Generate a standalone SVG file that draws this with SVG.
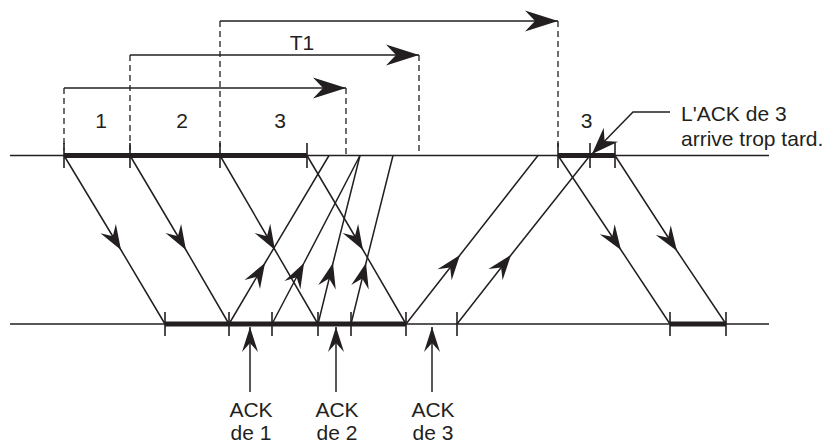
<svg xmlns="http://www.w3.org/2000/svg" width="826" height="445" viewBox="0 0 826 445">
<style>
.ln{stroke:#231f20;stroke-width:1.5;fill:none}
.thick{stroke:#231f20;stroke-width:5;fill:none}
.dash{stroke:#231f20;stroke-width:1.3;fill:none;stroke-dasharray:6 4}
.tick{stroke:#231f20;stroke-width:1.6}
.t{font-family:"Liberation Sans",Arial,sans-serif;font-size:21px;fill:#231f20}
.mid{marker-mid:url(#sm)}
</style>
<defs>
<marker id="big" markerUnits="userSpaceOnUse" viewBox="-34 -11 36 22" refX="0" refY="0" markerWidth="36" markerHeight="22" orient="auto" overflow="visible">
<path d="M0,0 L-33,-10.5 L-23,0 L-33,10.5 Z" fill="#231f20"/>
</marker>
<marker id="sm" markerUnits="userSpaceOnUse" viewBox="-26 -10 28 20" refX="0" refY="0" markerWidth="28" markerHeight="20" orient="auto" overflow="visible">
<path d="M0,0 L-25,-9 L-16,0 L-25,9 Z" fill="#231f20"/>
</marker>
<marker id="ack" markerUnits="userSpaceOnUse" viewBox="-26 -9 28 18" refX="0" refY="0" markerWidth="28" markerHeight="18" orient="auto" overflow="visible">
<path d="M0,0 L-25,-8 L-16,0 L-25,8 Z" fill="#231f20"/>
</marker>
<marker id="lead" markerUnits="userSpaceOnUse" viewBox="-28 -11 30 22" refX="0" refY="0" markerWidth="30" markerHeight="22" orient="auto" overflow="visible">
<path d="M0,0 L-27,-10 L-18,0 L-27,10 Z" fill="#231f20"/>
</marker>
</defs>

<g id="timelines">
<line class="ln" x1="10" y1="155.5" x2="769" y2="155.5"/>
<line class="ln" x1="10" y1="324" x2="769" y2="324"/>
<line class="thick" x1="64" y1="155.5" x2="307" y2="155.5"/>
<line class="thick" x1="558" y1="155.5" x2="615" y2="155.5"/>
<line class="thick" x1="165" y1="324" x2="406" y2="324"/>
<line class="thick" x1="670" y1="324" x2="726" y2="324"/>
</g>

<g id="ticks">
<line class="tick" x1="64" y1="143" x2="64" y2="168"/>
<line class="tick" x1="130" y1="143" x2="130" y2="168"/>
<line class="tick" x1="220" y1="143" x2="220" y2="168"/>
<line class="tick" x1="307" y1="143" x2="307" y2="168"/>
<line class="tick" x1="558" y1="143" x2="558" y2="168"/>
<line class="tick" x1="590" y1="143" x2="590" y2="168"/>
<line class="tick" x1="615" y1="143" x2="615" y2="168"/>
<line class="tick" x1="165" y1="312" x2="165" y2="336"/>
<line class="tick" x1="229" y1="312" x2="229" y2="336"/>
<line class="tick" x1="272" y1="312" x2="272" y2="336"/>
<line class="tick" x1="318" y1="312" x2="318" y2="336"/>
<line class="tick" x1="351" y1="312" x2="351" y2="336"/>
<line class="tick" x1="406" y1="312" x2="406" y2="336"/>
<line class="tick" x1="457" y1="312" x2="457" y2="336"/>
<line class="tick" x1="670" y1="312" x2="670" y2="336"/>
<line class="tick" x1="726" y1="312" x2="726" y2="336"/>
</g>

<g id="timers">
<line class="dash" x1="64" y1="88" x2="64" y2="150"/>
<line class="dash" x1="346" y1="88" x2="346" y2="155"/>
<line class="dash" x1="130" y1="55" x2="130" y2="150"/>
<line class="dash" x1="419" y1="55" x2="419" y2="155"/>
<line class="dash" x1="220" y1="21" x2="220" y2="150"/>
<line class="dash" x1="558" y1="21" x2="558" y2="150"/>
<line class="ln" x1="64" y1="88" x2="346" y2="88" marker-end="url(#big)"/>
<line class="ln" x1="130" y1="55" x2="419" y2="55" marker-end="url(#big)"/>
<line class="ln" x1="220" y1="21" x2="558" y2="21" marker-end="url(#big)"/>
</g>

<g id="connectors">
<path class="ln mid" d="M64,155.5 L121,250 L165,324"/>
<path class="ln mid" d="M130,155.5 L186,250 L229,324"/>
<path class="ln mid" d="M220,155.5 L275,250 L318,324"/>
<path class="ln mid" d="M307,155.5 L363,250 L406,324"/>
<path class="ln mid" d="M558,155.5 L621,250 L670,324"/>
<path class="ln mid" d="M615,155.5 L677,251 L726,324"/>
<path class="ln mid" d="M229,324 L265,263 L329,155.5"/>
<path class="ln mid" d="M272,324 L304,263 L360,155.5"/>
<path class="ln mid" d="M318,324 L333,263 L360,155.5"/>
<path class="ln mid" d="M351,324 L366,263 L393,155.5"/>
<path class="ln mid" d="M406,324 L460,255 L538,155.5"/>
<path class="ln mid" d="M457,324 L511,255 L590,155.5"/>
</g>

<g id="ack-labels">
<line class="ln" x1="250" y1="392" x2="250" y2="327" marker-end="url(#ack)"/>
<line class="ln" x1="336" y1="392" x2="336" y2="327" marker-end="url(#ack)"/>
<line class="ln" x1="432" y1="392" x2="432" y2="327" marker-end="url(#ack)"/>
<text class="t" x="251" y="416.5" text-anchor="middle">ACK</text>
<text class="t" x="251" y="440" text-anchor="middle">de 1</text>
<text class="t" x="337" y="416.5" text-anchor="middle">ACK</text>
<text class="t" x="337" y="440" text-anchor="middle">de 2</text>
<text class="t" x="433" y="416.5" text-anchor="middle">ACK</text>
<text class="t" x="433" y="440" text-anchor="middle">de 3</text>
</g>

<g id="late-label">
<polyline class="ln" points="670,112 633,112 592,154" marker-end="url(#lead)"/>
<text class="t" x="681" y="121">L'ACK de 3</text>
<text class="t" x="681" y="145.5">arrive trop tard.</text>
</g>

<g id="segment-labels">
<text class="t" x="101" y="128" text-anchor="middle">1</text>
<text class="t" x="182" y="128" text-anchor="middle">2</text>
<text class="t" x="280" y="128" text-anchor="middle">3</text>
<text class="t" x="586.5" y="128" text-anchor="middle">3</text>
<text class="t" x="302" y="50" text-anchor="middle">T1</text>
</g>
</svg>
